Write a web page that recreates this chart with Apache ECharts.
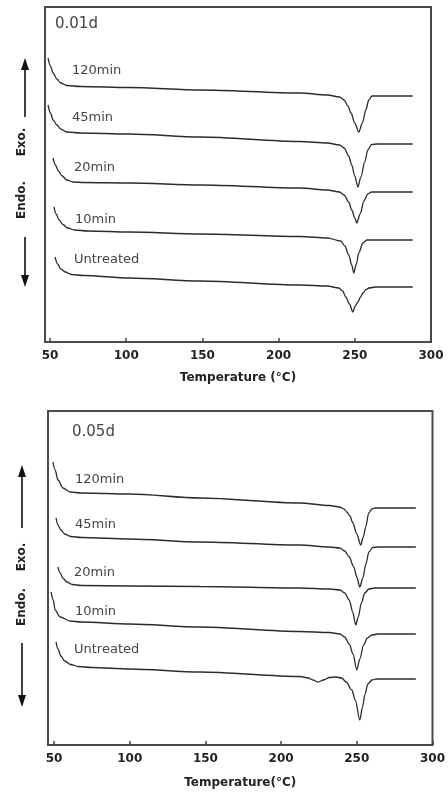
<!DOCTYPE html>
<html>
<head>
<meta charset="utf-8">
<title>DSC curves</title>
<script src="https://cdn.jsdelivr.net/npm/echarts@6/dist/echarts.min.js"></script>
<style>
html, body { margin: 0; padding: 0; background: #fff; }
#chart { width: 448px; height: 794px; }
</style>
</head>
<body>
<div id="chart"></div>
<script>
// tick labels on both temperature axes
var tempTicks = [50, 100, 150, 200, 250, 300];
var curveNames = ['120min', '45min', '20min', '10min', 'Untreated'];

// panel 0.01d : [temperature (°C), heat flow (a.u., offset)]
var d01_120 = [[48.7,284],[50.3,276],[52,269],[54.5,263],[57,259],[61,256.5],[70,255.5],[102,254.5],[149,252],[214,249],[232,247],[240,245],[243,242],[245.5,236],[247.5,229],[250,219],[252.6,210],[255,219],[257.2,232],[259.2,242],[261.2,246],[265,246],[288,246]];
var d01_45 = [[48.7,237],[50.3,229],[52,222],[54.5,217],[57,213],[61,210],[70,209],[102,208],[149,205],[214,200.5],[232,199],[240,197],[243,194],[246,186],[248,177],[250,166],[252,155],[254,165],[256.5,180],[258.5,192],[261,197.5],[265,198],[288,198]];
var d01_20 = [[52,184],[53.5,177],[55.5,171],[58,166],[61,162],[65,160],[72,159.5],[102,159],[149,157],[214,154],[232,152],[240,150],[243,147],[246,140],[248,132],[250,124],[251.3,119],[253.5,128],[256,141],[258.5,148],[261,150],[265,150],[288,150]];
var d01_10 = [[52.6,135],[54,128],[56,122],[58.5,117.5],[61.5,114],[66,112],[75,111],[102,110],[149,108],[214,105.5],[232,104],[240.8,101],[243.5,96],[246,87],[248,77],[249.3,69],[251,78],[252.6,89],[255.3,99],[258,102],[262,102],[288,102]];
var d01_un = [[53.3,85],[55,78],[57,73],[60,70],[64,67.5],[72,66.5],[102,64],[149,61],[214,57],[232,56],[239.5,54],[242,51],[244.1,45],[246.5,38],[248.7,30],[250.3,36],[252,40],[253.8,45],[255.3,49],[257.5,52.5],[259.2,54],[263.8,55],[288,55]];

// panel 0.05d
var d05_120 = [[49.3,283],[50.7,275],[52.6,265],[55.9,257],[60.6,253],[68,252],[100,251],[146.4,247],[212.4,242],[232,239.5],[238.8,238],[241.5,236],[243.4,233],[245.5,229],[247.4,222],[250,211],[252.6,200],[254.3,208],[255.9,218],[257.9,232],[260,236],[262,237],[289,237]];
var d05_45 = [[51.3,227],[52.6,220],[54.5,215],[57,211],[61,208.5],[68,207.5],[100,206],[146.4,203],[212.4,200],[232,198],[238.8,197],[242,194],[245,188],[248,178],[250,168],[252,158],[254,167],[256,181],[258,193],[260.5,197.5],[264,198],[289,198]];
var d05_20 = [[52.6,178],[54,172],[56,166.5],[58.5,163],[62,160.5],[68,159.5],[100,159],[146.4,158.5],[212.4,157],[232,156],[239,155],[242,152],[245,145],[247.3,133],[249.3,120],[251,128],[253,142],[255.3,152],[258,156],[262,157],[289,157]];
var d05_10 = [[48,153],[49.5,145],[50.7,135],[54,128],[60.6,124],[68,123],[100,121],[146.4,118],[212.4,113.5],[232,112.5],[238.8,111],[242,108],[245,101],[247.5,91],[250,75],[252,86],[254.5,100],[257,107],[260,110],[264,111],[289,111]];
var d05_un = [[51.3,103],[52.6,96],[54.5,89],[57,84],[61,80.5],[66,78.5],[75,77.5],[100,76],[146.4,73],[212.4,68.5],[218,67],[221,65],[224.3,63],[228,65],[232,67.5],[236,68],[240,67],[243,63],[246.7,55],[249,45],[252,25],[253.8,38],[255.3,50],[257.3,61],[260,65],[263,66],[289,66]];

var panel01 = [d01_120, d01_45, d01_20, d01_10, d01_un];
var panel05 = [d05_120, d05_45, d05_20, d05_10, d05_un];

var chart = echarts.init(document.getElementById('chart'));

function xAxisFor(idx, min, title, gap) {
    return {
        type: 'value',
        gridIndex: idx,
        min: min,
        max: 300,
        name: title,
        nameLocation: 'middle',
        nameGap: gap,
        nameTextStyle: { fontFamily: 'DejaVu Sans', fontWeight: 'bold', fontSize: 12, color: '#222' },
        axisLine: { show: false },
        splitLine: { show: false },
        axisTick: { show: true, inside: true, length: 4, customValues: tempTicks, lineStyle: { color: '#444', width: 1.5 } },
        axisLabel: { customValues: tempTicks, margin: 8, fontFamily: 'DejaVu Sans', fontWeight: 'bold', fontSize: 12, color: '#222' }
    };
}

function yAxisFor(idx, max) {
    return { type: 'value', gridIndex: idx, min: 0, max: max, show: false };
}

var series = [];
function addCurves(list, idx) {
    list.forEach(function (d, i) {
        series.push({
            name: curveNames[i],
            type: 'line',
            xAxisIndex: idx,
            yAxisIndex: idx,
            data: d,
            showSymbol: false,
            smooth: 0.3,
            smoothMonotone: 'x',
            lineStyle: { color: '#2b2b2b', width: 1.3 },
            silent: true
        });
    });
}
addCurves(panel01, 0);
addCurves(panel05, 1);

var labelFont = { fontFamily: 'DejaVu Sans', fontSize: 13, fill: '#444', verticalAlign: 'middle' };
function txt(x, y, s, extra) {
    var st = Object.assign({ text: s }, labelFont, extra || {});
    return { type: 'text', x: x, y: y, style: st };
}
function arrow(x, y1, y2) {
    // y1 tail, y2 tip
    var dir = y2 < y1 ? 1 : -1;
    return {
        type: 'group',
        children: [
            { type: 'line', shape: { x1: x, y1: y1, x2: x, y2: y2 + dir * 10 }, style: { stroke: '#111', lineWidth: 1.6 } },
            { type: 'polygon', shape: { points: [[x - 4, y2 + dir * 12], [x + 4, y2 + dir * 12], [x, y2]] }, style: { fill: '#111' } }
        ]
    };
}
function sideText(x, y, s) {
    return {
        type: 'text', x: x, y: y, rotation: Math.PI / 2,
        style: { text: s, fontFamily: 'DejaVu Sans', fontWeight: 'bold', fontSize: 12, fill: '#222', align: 'center', verticalAlign: 'middle' }
    };
}

var graphics = [
    txt(55, 24, '0.01d', { fontSize: 15 }),
    txt(72, 71, curveNames[0]), txt(72, 118, curveNames[1]), txt(74, 168, curveNames[2]),
    txt(75, 220, curveNames[3]), txt(74, 260, curveNames[4]),
    txt(72, 432, '0.05d', { fontSize: 15 }),
    txt(75, 480, curveNames[0]), txt(75, 525, curveNames[1]), txt(74, 573, curveNames[2]),
    txt(75, 612, curveNames[3]), txt(74, 650, curveNames[4]),
    arrow(25, 117, 58), arrow(25, 237, 287),
    sideText(22, 142, 'Exo.'), sideText(22, 200, 'Endo.'),
    arrow(22, 528, 465), arrow(22, 643, 707),
    sideText(22, 557, 'Exo.'), sideText(22, 607, 'Endo.')
];

chart.setOption({
    backgroundColor: '#fff',
    animation: false,
    grid: [
        { left: 45, right: 17, top: 7, height: 335, show: true, borderColor: '#4a4a4a', borderWidth: 2, backgroundColor: 'transparent' },
        { left: 48, right: 14, top: 411, height: 334, show: true, borderColor: '#4a4a4a', borderWidth: 2, backgroundColor: 'transparent' }
    ],
    xAxis: [
        xAxisFor(0, 46.7, 'Temperature (°C)', 30),
        xAxisFor(1, 46, 'Temperature(°C)', 32)
    ],
    yAxis: [yAxisFor(0, 335), yAxisFor(1, 334)],
    series: series,
    graphic: graphics
});
</script>
</body>
</html>
